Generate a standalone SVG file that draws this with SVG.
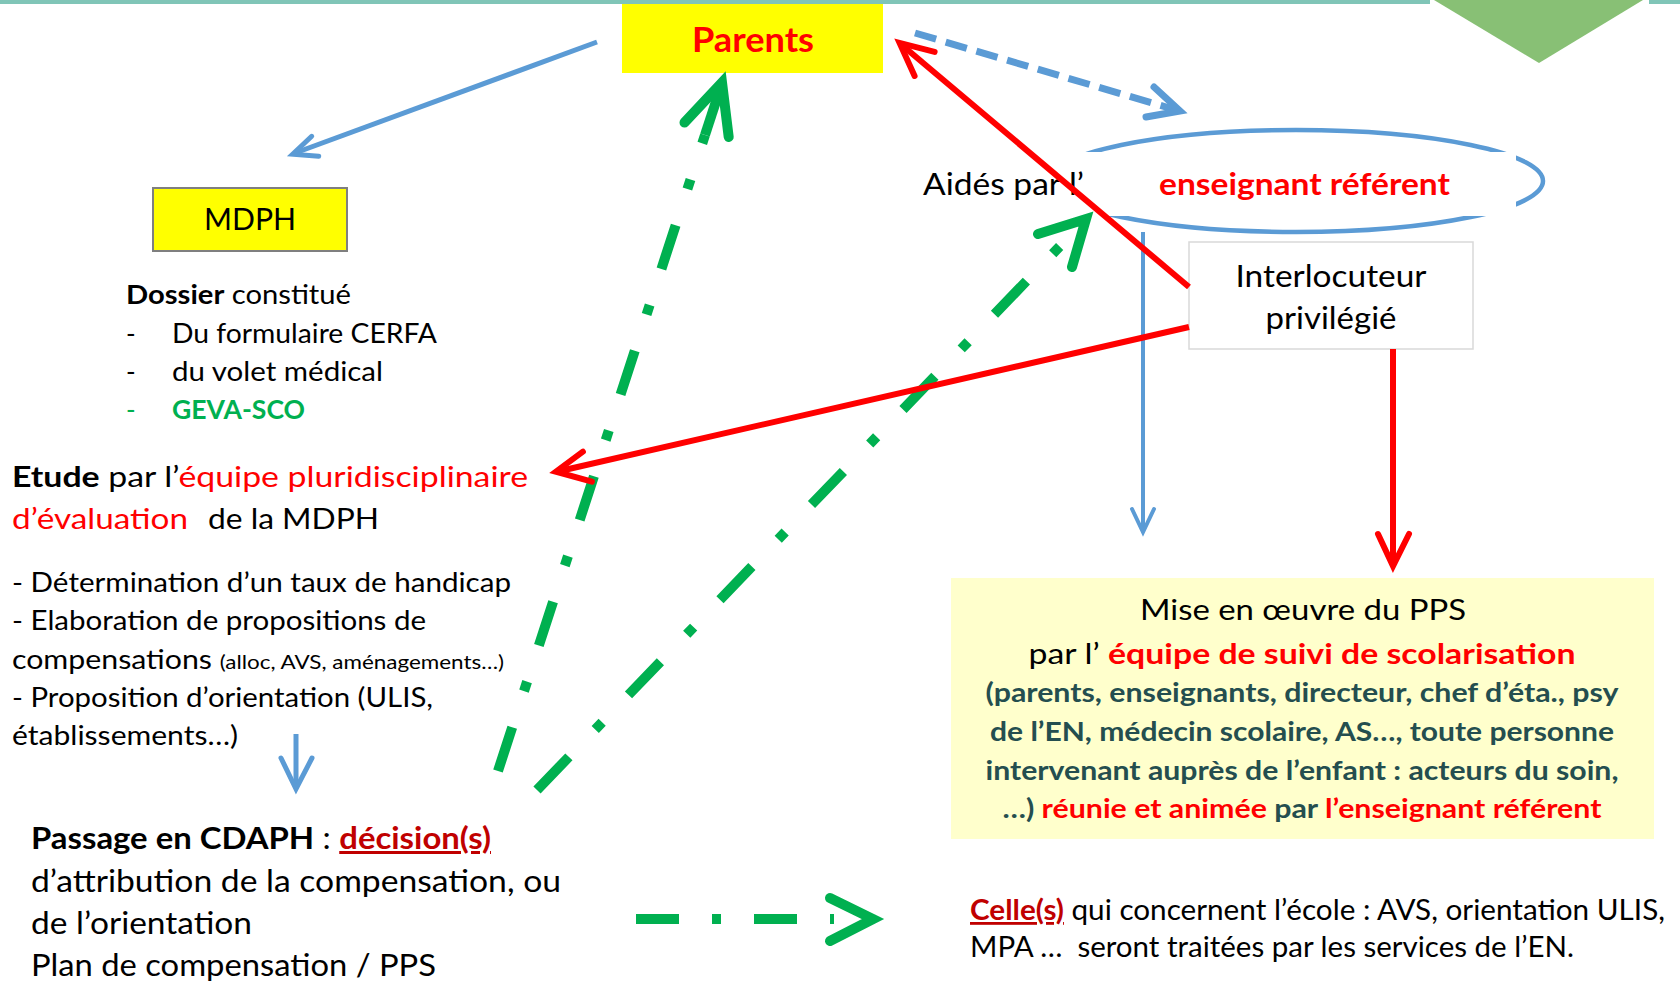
<svg xmlns="http://www.w3.org/2000/svg" width="1680" height="984" viewBox="0 0 1680 984">
<style>
text{font-family:Lato,"Open Sans","Liberation Sans",sans-serif;fill:#000}
.b{font-weight:bold}
.red{fill:#ff0000}
.dred{fill:#c00000}
.grn{fill:#00b050}
.teal{fill:#244e4f}
.blue{stroke:#5b9bd5;fill:none}
.rd{stroke:#ff0000;fill:none;stroke-width:6}
.gr{stroke:#00b050;fill:none;stroke-width:10}
.gdash{stroke-dasharray:46 38 10 38}
.head{stroke-linecap:round;stroke-linejoin:miter}
</style>
<rect x="0" y="0" width="1680" height="984" fill="#ffffff"/>
<g id="decor">
<rect x="0" y="0" width="1430" height="4" fill="#80c5b7"/>
<rect x="1649" y="0" width="31" height="4" fill="#80c5b7"/>
<polygon points="1434,0 1643,0 1539,63" fill="#88c075"/>
</g>
<g id="parents">
<rect x="622" y="4" width="261" height="69" fill="#ffff00"/>
<text x="753" y="52" text-anchor="middle" font-size="35" class="b red" textLength="122" lengthAdjust="spacingAndGlyphs">Parents</text>
</g>
<g id="mdph">
<rect x="153" y="188" width="194" height="63" fill="#ffff00" stroke="#7f7f7f" stroke-width="2"/>
<text x="250" y="230" text-anchor="middle" font-size="30" textLength="92" lengthAdjust="spacingAndGlyphs">MDPH</text>
</g>
<g id="dossier" font-size="26">
<text x="126" y="304" textLength="225" lengthAdjust="spacingAndGlyphs"><tspan class="b">Dossier</tspan> constitué</text>
<text x="126" y="343">-</text><text x="172" y="343" textLength="265" lengthAdjust="spacingAndGlyphs">Du formulaire CERFA</text>
<text x="126" y="381">-</text><text x="172" y="381" textLength="211" lengthAdjust="spacingAndGlyphs">du volet médical</text>
<text x="126" y="419" class="grn">-</text><text x="172" y="419" class="b grn" textLength="133" lengthAdjust="spacingAndGlyphs">GEVA-SCO</text>
</g>
<g id="etude" font-size="27">
<text x="12" y="487" font-size="29" textLength="516" lengthAdjust="spacingAndGlyphs"><tspan class="b">Etude</tspan> par l’<tspan class="red">équipe pluridisciplinaire</tspan></text>
<text x="12" y="529" font-size="29" class="red" textLength="176" lengthAdjust="spacingAndGlyphs">d’évaluation</text>
<text x="208" y="529" font-size="29" textLength="171" lengthAdjust="spacingAndGlyphs">de la MDPH</text>
<text x="12" y="592" textLength="499" lengthAdjust="spacingAndGlyphs">- Détermination d’un taux de handicap</text>
<text x="12" y="630" textLength="414" lengthAdjust="spacingAndGlyphs">- Elaboration de propositions de</text>
<text x="12" y="669" textLength="492" lengthAdjust="spacingAndGlyphs">compensations <tspan font-size="20">(alloc, AVS, aménagements…)</tspan></text>
<text x="12" y="707" textLength="421" lengthAdjust="spacingAndGlyphs">- Proposition d’orientation (ULIS,</text>
<text x="12" y="745" textLength="226" lengthAdjust="spacingAndGlyphs">établissements…)</text>
</g>
<g id="cdaph" font-size="30">
<text x="31" y="849" textLength="460" lengthAdjust="spacingAndGlyphs"><tspan class="b">Passage en CDAPH</tspan> : <tspan class="b dred" text-decoration="underline">décision(s)</tspan></text>
<text x="31" y="892" textLength="530" lengthAdjust="spacingAndGlyphs">d’attribution de la compensation, ou</text>
<text x="31" y="934" textLength="221" lengthAdjust="spacingAndGlyphs">de l’orientation</text>
<text x="31" y="976" textLength="405" lengthAdjust="spacingAndGlyphs">Plan de compensation / PPS</text>
</g>
<g id="referent">
<ellipse cx="1296" cy="181" rx="247" ry="51" class="blue" stroke-width="4.5"/>
<rect x="1020" y="152" width="496" height="64" fill="#ffffff"/>
<text x="923" y="195" font-size="31" textLength="161" lengthAdjust="spacingAndGlyphs">Aidés par l’</text>
<text x="1159" y="195" font-size="31" class="b red" textLength="291" lengthAdjust="spacingAndGlyphs">enseignant référent</text>
</g>
<g id="interlocuteur">
<rect x="1189" y="242" width="284" height="107" fill="#ffffff" stroke="#d9d9d9" stroke-width="1.5"/>
<text x="1331" y="287" text-anchor="middle" font-size="31" textLength="191" lengthAdjust="spacingAndGlyphs">Interlocuteur</text>
<text x="1331" y="329" text-anchor="middle" font-size="31" textLength="131" lengthAdjust="spacingAndGlyphs">privilégié</text>
</g>
<g id="pps">
<rect x="951" y="578" width="703" height="261" fill="#ffffcc"/>
<text x="1303" y="620" text-anchor="middle" font-size="29" textLength="326" lengthAdjust="spacingAndGlyphs">Mise en œuvre du PPS</text>
<text x="1302" y="664" text-anchor="middle" font-size="29" textLength="547" lengthAdjust="spacingAndGlyphs">par l’ <tspan class="b red">équipe de suivi de scolarisation</tspan></text>
<text x="1302" y="702" text-anchor="middle" font-size="26" class="b teal" textLength="633" lengthAdjust="spacingAndGlyphs">(parents, enseignants, directeur, chef d’éta., psy</text>
<text x="1302" y="741" text-anchor="middle" font-size="26" class="b teal" textLength="624" lengthAdjust="spacingAndGlyphs">de l’EN, médecin scolaire, AS…, toute personne</text>
<text x="1302" y="780" text-anchor="middle" font-size="26" class="b teal" textLength="633" lengthAdjust="spacingAndGlyphs">intervenant auprès de l’enfant : acteurs du soin,</text>
<text x="1302" y="818" text-anchor="middle" font-size="26" class="b teal" textLength="599" lengthAdjust="spacingAndGlyphs">…) <tspan class="red">réunie et animée</tspan> par <tspan class="red">l’enseignant référent</tspan></text>
</g>
<g id="celles" font-size="28">
<text x="970" y="920" textLength="695" lengthAdjust="spacingAndGlyphs"><tspan class="b dred" text-decoration="underline">Celle(s)</tspan> qui concernent l’école : AVS, orientation ULIS,</text>
<text x="970" y="957" textLength="604" lengthAdjust="spacingAndGlyphs">MPA …&#160; seront traitées par les services de l’EN.</text>
</g>
<g id="connectors">
<line x1="597" y1="42" x2="295" y2="153" class="blue" stroke-width="5"/>
<polyline points="311.7,136.3 292.7,154.3 318.7,156.3" class="blue head" stroke-width="5"/>
<line x1="915" y1="33" x2="1176" y2="110" class="blue" stroke-width="7" stroke-dasharray="22 10"/>
<polyline points="1154,87 1180,111 1146,117" class="blue head" stroke-width="7"/>
<line x1="296" y1="734" x2="296" y2="786" class="blue" stroke-width="5"/>
<polyline points="281,758 296,789 312,758" class="blue head" stroke-width="5"/>
<line x1="1143" y1="232" x2="1143" y2="529" class="blue" stroke-width="4"/>
<polyline points="1132,509 1143,532 1154,509" class="blue head" stroke-width="4"/>
<line x1="498" y1="771" x2="705" y2="135" class="gr gdash"/>
<polyline points="705,135 722,83" class="gr"/>
<polyline points="684.5,122.5 722,82.5 728.7,137" class="gr head"/>
<line x1="537" y1="790" x2="1064" y2="242" class="gr gdash"/>
<polyline points="1038,234 1086,219 1072,267" class="gr head"/>
<line x1="636" y1="919" x2="834" y2="919" class="gr" stroke-dasharray="43 33 9 33"/>
<polyline points="830,898 873,919 830,941" class="gr head"/>
<line x1="1189" y1="287" x2="903" y2="46" class="rd"/>
<polyline points="914.6,75.9 899.6,42.9 934.6,51.9" class="rd head"/>
<line x1="1189" y1="327" x2="560" y2="471" class="rd"/>
<polyline points="582.9,451.7 555.9,471.7 591.9,481.7" class="rd head"/>
<line x1="1393" y1="349" x2="1393" y2="562" class="rd" stroke-width="7"/>
<polyline points="1378,534 1393,566 1409,534" class="rd head" stroke-width="7"/>
</g>
</svg>
